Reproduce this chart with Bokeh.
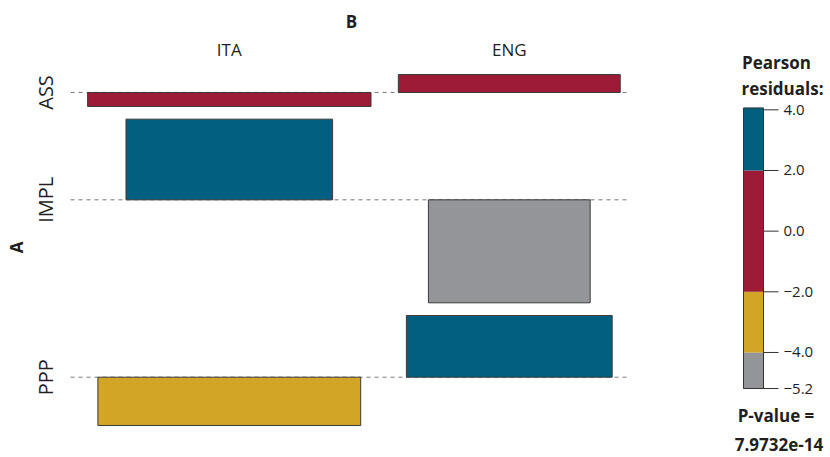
import math
import numpy as np
from bokeh.plotting import figure
from bokeh.models import Range1d
from bokeh.core.properties import value
from bokeh.embed import file_html
from bokeh.resources import INLINE

# ---------------- data ----------------
A_LEVELS = ["ASS", "IMPL", "PPP"]          # rows (variable A)
B_LEVELS = ["ITA", "ENG"]                  # columns (variable B)
COUNTS_ITA = [82, 75, 55]
COUNTS_ENG = [61, 1, 68]
LEGEND_TICKS = [4.0, 2.0, 0.0, -2.0, -4.0]
SHADE_BREAKS = [-4.0, -2.0, 2.0]
SHADE_COLORS = ["#939598", "#D2A526", "#9D1B36", "#01607F"]
P_VALUE_TEXT = "7.9732e-14"

# ---------------- statistics (association plot) ----------------
obs = np.array([COUNTS_ITA, COUNTS_ENG], dtype=float).T   # rows = A, cols = B
N = obs.sum()
E = np.outer(obs.sum(axis=1), obs.sum(axis=0)) / N
R = (obs - E) / np.sqrt(E)
W = np.sqrt(E)
rmin, rmax = R.min(), R.max()

# ---------------- layout in data units ----------------
GAP_X = 0.908
GAP_Y = 0.64
col_w = W.max(axis=0)
col_left = np.concatenate([[0.0], np.cumsum(col_w + GAP_X)[:-1]])
col_center = col_left + col_w / 2
row_pos = np.maximum(R.max(axis=1), 0)
row_neg = np.maximum(-R.min(axis=1), 0)
nrow = len(A_LEVELS)
base = np.zeros(nrow)
for i in range(nrow - 2, -1, -1):
    base[i] = base[i + 1] + row_pos[i + 1] + GAP_Y + row_neg[i]

# ---------------- figure ----------------
WIDTH, HEIGHT = 830, 457
KX, X0_PX = 30.1, 87.1
KY, Y0_PX = 19.85, 376.7
KL, L0_PX = 30.33, 230.65
FONT = value("Open Sans")
TXT = "#231f20"

p = figure(width=WIDTH, height=HEIGHT, output_backend="svg", toolbar_location=None,
           x_range=Range1d(-X0_PX / KX, (WIDTH - X0_PX) / KX),
           y_range=Range1d(-(HEIGHT - Y0_PX) / KY, Y0_PX / KY),
           x_axis_location=None, y_axis_location=None,
           min_border=0, outline_line_color=None,
           background_fill_color="white", border_fill_color="white")
p.grid.visible = False
p.extra_x_ranges = {"px": Range1d(0, WIDTH)}
p.extra_y_ranges = {"py": Range1d(HEIGHT, 0),
                    "leg": Range1d(-(HEIGHT - L0_PX) / KL, L0_PX / KL)}

# baselines (dashed)
p.segment(x0=[70] * nrow, x1=[630] * nrow, y0=list(base), y1=list(base),
          x_range_name="px", line_color="#7a7a7a", line_width=1, line_dash="4 4")

# bars
lefts, rights, bottoms, tops, colors = [], [], [], [], []
for i in range(nrow):
    for j in range(len(B_LEVELS)):
        r = R[i, j]
        lefts.append(col_center[j] - W[i, j] / 2)
        rights.append(col_center[j] + W[i, j] / 2)
        bottoms.append(base[i] + min(r, 0))
        tops.append(base[i] + max(r, 0))
        colors.append(SHADE_COLORS[int(np.searchsorted(SHADE_BREAKS, r))])
p.quad(left=lefts, right=rights, bottom=bottoms, top=tops,
       fill_color=colors, line_color="#3a3a3a", line_width=1)

# column labels
p.text(x=list(col_center), y=[48.5] * len(B_LEVELS), text=B_LEVELS, y_range_name="py",
       text_font=FONT, text_font_size="17px", text_color=TXT,
       text_align="center", text_baseline="middle")
p.text(x=[351], y=[21], text=["B"], x_range_name="px", y_range_name="py",
       text_font=FONT, text_font_size="17px", text_font_style="bold", text_color=TXT,
       text_align="center", text_baseline="middle")

# row labels
p.text(x=[45] * nrow, y=list(base), text=A_LEVELS, x_range_name="px",
       angle=math.pi / 2, text_font=FONT, text_font_size="20px", text_color=TXT,
       text_align="center", text_baseline="middle")
p.text(x=[15.5], y=[247], text=["A"], x_range_name="px", y_range_name="py",
       angle=math.pi / 2, text_font=FONT, text_font_size="17px", text_font_style="bold",
       text_color=TXT, text_align="center", text_baseline="middle")

# legend
edges = [rmin] + SHADE_BREAKS + [rmax]
p.quad(left=[743] * 4, right=[763] * 4, bottom=edges[:-1], top=edges[1:],
       fill_color=SHADE_COLORS, line_color=None,
       x_range_name="px", y_range_name="leg")
p.quad(left=[743], right=[763], bottom=[rmin], top=[rmax], fill_color=None,
       line_color="#333333", line_width=1, x_range_name="px", y_range_name="leg")
tick_vals = LEGEND_TICKS + [rmin]
p.segment(x0=[763] * len(tick_vals), x1=[778] * len(tick_vals), y0=tick_vals, y1=tick_vals,
          line_color="#333333", line_width=1, x_range_name="px", y_range_name="leg")
tick_text = [f"{v:.1f}".replace("-", "\u2212") for v in tick_vals]
p.text(x=[783] * len(tick_vals), y=tick_vals, text=tick_text,
       x_range_name="px", y_range_name="leg",
       text_font=FONT, text_font_size="15px", text_color=TXT,
       text_align="left", text_baseline="middle")

p.text(x=[776, 782, 775.5, 778.5], y=[61.5, 87.5, 415, 443.5],
       text=["Pearson", "residuals:", "P-value =", P_VALUE_TEXT],
       x_range_name="px", y_range_name="py",
       text_font=FONT, text_font_size="17px", text_font_style="bold", text_color=TXT,
       text_align="center", text_baseline="middle")

open("out.html", "w").write(file_html(p, INLINE))
